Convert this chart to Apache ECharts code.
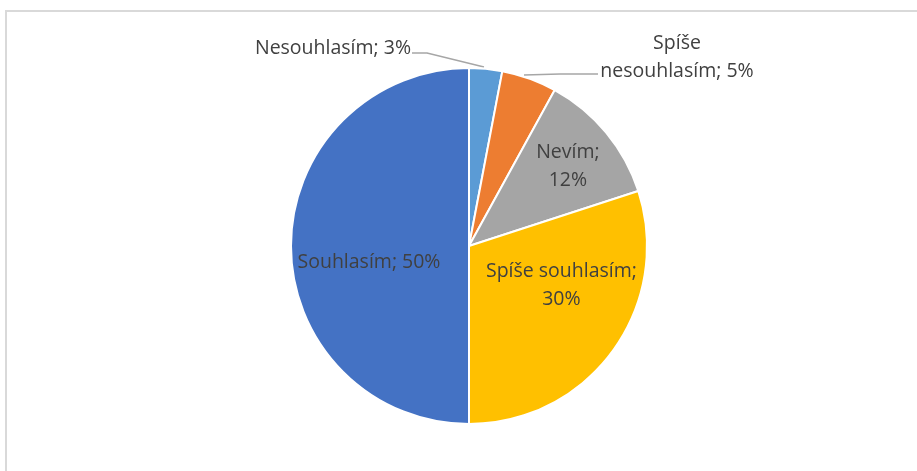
<!DOCTYPE html>
<html>
<head>
<meta charset="utf-8">
<script src="https://cdn.jsdelivr.net/npm/echarts@6/dist/echarts.min.js"></script>
<style>
  html, body { margin: 0; padding: 0; background: #fff; }
  #chart { width: 917px; height: 471px; }
</style>
</head>
<body>
<div id="chart"></div>
<script>
const categories = ['Nesouhlasím', 'Spíše nesouhlasím', 'Nevím', 'Spíše souhlasím', 'Souhlasím'];
const values = [3, 5, 12, 30, 50];
const colors = ['#5B9BD5', '#ED7D31', '#A5A5A5', '#FFC000', '#4472C4'];

const myChart = echarts.init(document.getElementById('chart'));

const labelFont = { fontFamily: 'Open Sans', fontSize: 19.5, color: '#404040', lineHeight: 28 };

// label placement tweaks (Excel style data labels)
const labelSpots = [
  { x: 411, y: 48, align: 'right', verticalAlign: 'middle',
    labelLinePoints: [[484, 67], [427, 53], [412, 53]] },
  { x: 677, y: 57, align: 'center', verticalAlign: 'middle',
    labelLinePoints: [[524, 75], [560, 74], [598, 74]] },
  { dx: 28, dy: -21 },
  { dx: 18, dy: -15 },
  { dx: -8, dy: 16 }
];

const option = {
  animation: false,
  graphic: [{
    type: 'rect',
    shape: { x: 6, y: 11, width: 930, height: 480 },
    style: { fill: 'none', stroke: '#d9d9d9', lineWidth: 2 }
  }],
  series: [{
    type: 'pie',
    center: [469, 246],
    radius: [0, 178],
    startAngle: 90,
    clockwise: true,
    avoidLabelOverlap: false,
    itemStyle: { borderColor: '#fff', borderWidth: 2 },
    label: Object.assign({ position: 'inside' }, labelFont),
    labelLayout: function (params) {
      return labelSpots[params.dataIndex];
    },
    data: categories.map((name, i) => {
      const d = { name: name, value: values[i], itemStyle: { color: colors[i] } };
      if (i === 0) {
        d.label = Object.assign({ position: 'outside', formatter: '{b}; {c}%' }, labelFont);
        d.labelLine = { show: true, length: 10, length2: 10, lineStyle: { color: '#a6a6a6', width: 1.5 } };
      } else if (i === 1) {
        d.label = Object.assign({ position: 'outside', formatter: 'Spíše\nnesouhlasím; {c}%', align: 'center' }, labelFont);
        d.labelLine = { show: true, length: 10, length2: 10, lineStyle: { color: '#a6a6a6', width: 1.5 } };
      } else if (i === 4) {
        d.label = { formatter: '{b}; {c}%' };
      } else {
        d.label = { formatter: '{b};\n{c}%', align: 'center' };
      }
      return d;
    })
  }]
};

myChart.setOption(option);
</script>
</body>
</html>
